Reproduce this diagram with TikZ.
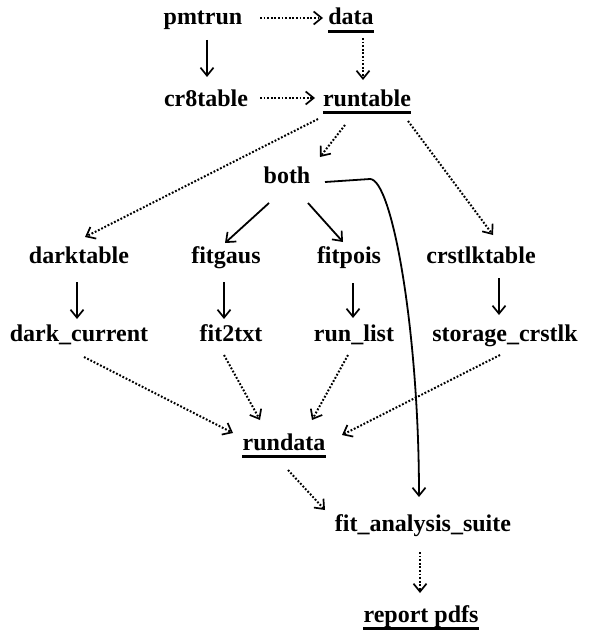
\documentclass[tikz,border=0pt]{standalone}
\usepackage{fontspec}
\setmainfont{Liberation Serif}
\usetikzlibrary{arrows.meta,calc}
\begin{document}
\begin{tikzpicture}[x=1pt,y=-1pt,
  lbl/.style={font=\fontsize{24}{28}\selectfont\bfseries, inner sep=1pt, anchor=base},
  solidarr/.style={line width=1.8pt, -{Straight Barb[length=8pt,width=13pt,line width=1.7pt]}},
  dotarr/.style={line width=2pt, dash pattern=on 1.8pt off 1.8pt, -{Straight Barb[length=8pt,width=13pt,line width=1.7pt]}},
  uline/.style={line width=3pt}]
\useasboundingbox (0,0) rectangle (591,642);
% nodes
\node[lbl] (pmtrun) at (203,25) {pmtrun};
\node[lbl] (data) at (351,25) {data};
\node[lbl] (cr8table) at (206,106) {cr8table};
\node[lbl] (runtable) at (367,106) {runtable};
\node[lbl] (both) at (287,183) {both};
\node[lbl] (darktable) at (79,263) {darktable};
\node[lbl] (fitgaus) at (226,263) {fitgaus};
\node[lbl] (fitpois) at (349,263) {fitpois};
\node[lbl] (crstlktable) at (481,263) {crstlktable};
\node[lbl] (darkcurrent) at (79,341) {dark\_current};
\node[lbl] (fittxt) at (231,341) {fit2txt};
\node[lbl] (runlist) at (354,341) {run\_list};
\node[lbl] (storage) at (505,341) {storage\_crstlk};
\node[lbl] (rundata) at (284,450) {rundata};
\node[lbl] (fitsuite) at (423,531) {fit\_analysis\_suite};
\node[lbl] (report) at (421,622) {report pdfs};
% underlines
\foreach \n in {data,runtable,rundata,report}
  \draw[uline] ($(\n.base west)+(1,6.5)$) -- ($(\n.base east)+(-1,6.5)$);
% connectors
\draw[dotarr] ($(pmtrun.base)+(57,-7)$) -- ($(data.base)+(-28,-7)$);
\draw[solidarr] ($(pmtrun.base)+(4,15)$) -- ($(cr8table.base)+(1,-29)$);
\draw[dotarr] ($(data.base)+(12,13)$) -- ($(runtable.base)+(-4,-26)$);
\draw[dotarr] ($(cr8table.base)+(54,-8)$) -- ($(runtable.base)+(-52,-8)$);
\draw[dotarr] ($(runtable.base)+(-22,19)$) -- ($(both.base)+(33,-26)$);
\draw[dotarr] ($(runtable.base)+(-49,13)$) -- ($(darktable.base)+(6,-26)$);
\draw[dotarr] ($(runtable.base)+(41,15)$) -- ($(crstlktable.base)+(12,-28)$);
\draw[solidarr] ($(both.base)+(-18,20)$) -- ($(fitgaus.base)+(-1,-20)$);
\draw[solidarr] ($(both.base)+(21,20)$) -- ($(fitpois.base)+(-6,-21)$);
\draw[solidarr] ($(both.base)+(38,-1)$) -- (370,179) .. controls (392,179) and (419,330) .. ($(fitsuite.base)+(-4,-34)$);
\draw[solidarr] ($(darktable.base)+(-2,19)$) -- ($(darkcurrent.base)+(-2,-22)$);
\draw[solidarr] ($(fitgaus.base)+(-2,19)$) -- ($(fittxt.base)+(-7,-22)$);
\draw[solidarr] ($(fitpois.base)+(4,20)$) -- ($(runlist.base)+(-1,-23)$);
\draw[solidarr] ($(crstlktable.base)+(18,15)$) -- ($(storage.base)+(-6,-26)$);
\draw[dotarr] ($(darkcurrent.base)+(5,16)$) -- ($(rundata.base)+(-51,-17)$);
\draw[dotarr] ($(fittxt.base)+(-7,14)$) -- ($(rundata.base)+(-24,-30)$);
\draw[dotarr] ($(runlist.base)+(-6,14)$) -- ($(rundata.base)+(28,-30)$);
\draw[dotarr] ($(storage.base)+(-5,14)$) -- ($(rundata.base)+(58,-15)$);
\draw[dotarr] ($(rundata.base)+(4,20)$) -- ($(fitsuite.base)+(-98,-21)$);
\draw[dotarr] ($(fitsuite.base)+(-3,21)$) -- ($(report.base)+(-1,-29)$);
\end{tikzpicture}
\end{document}
